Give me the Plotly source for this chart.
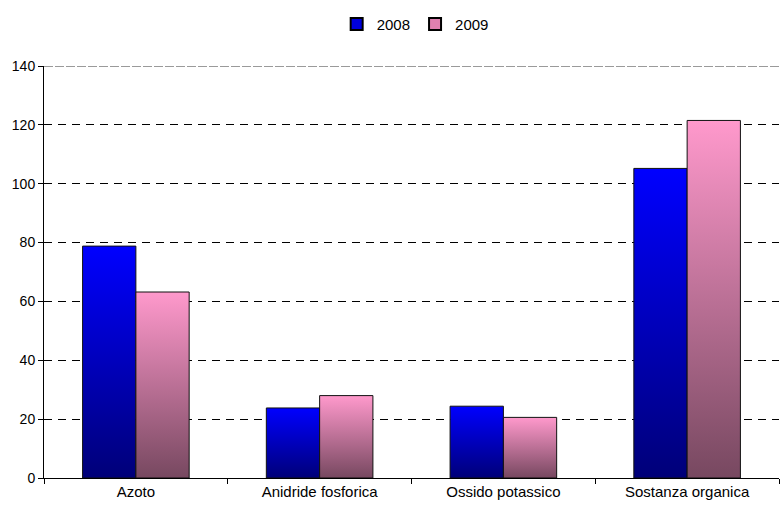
import plotly.graph_objects as go

categories = ["Azoto", "Anidride fosforica", "Ossido potassico", "Sostanza organica"]
series_names = ["2008", "2009"]
values_2008 = [78.8, 23.8, 24.4, 105.2]
values_2009 = [63.2, 28.0, 20.6, 121.5]
y_ticks = [0, 20, 40, 60, 80, 100, 120, 140]

series_values = [values_2008, values_2009]
top_colors = ["#0000FF", "#FF99CC"]
bottom_colors = ["#000078", "#774860"]
legend_colors = ["#0000DD", "#E080B0"]
bar_w = 0.29

fig = go.Figure()
for s, vals in enumerate(series_values):
    for i, v in enumerate(vals):
        x0 = i - bar_w + s * bar_w
        x1 = x0 + bar_w
        fig.add_trace(go.Scatter(
            x=[x0, x0, x1, x1, x0], y=[0, v, v, 0, 0],
            mode="lines", fill="toself",
            line=dict(color="#111111", width=1),
            fillgradient=dict(type="vertical", start=0, stop=v,
                              colorscale=[[0, bottom_colors[s]], [1, top_colors[s]]]),
            showlegend=False, hoverinfo="skip"))
    fig.add_trace(go.Scatter(
        x=[None], y=[None], mode="markers", name=series_names[s],
        marker=dict(symbol="square", size=9, color=legend_colors[s],
                    line=dict(color="#000", width=1))))

# top gridline (at the maximum tick), drawn grey as in the reference
fig.add_shape(type="line", xref="paper", x0=0, x1=1, yref="y",
              y0=y_ticks[-1], y1=y_ticks[-1],
              line=dict(color="#7a7a7a", width=1.5, dash="9px,2px"), layer="below")

fig.update_layout(
    width=781, height=511,
    margin=dict(l=44, r=2, t=66, b=33),
    paper_bgcolor="white", plot_bgcolor="white",
    font=dict(family="Liberation Sans, Arial", size=14, color="#000"),
    legend=dict(orientation="h", x=0.505, xanchor="center", y=0.985, yref="container",
                yanchor="top", font=dict(size=15), tracegroupgap=0,
                itemsizing="constant"),
    showlegend=True,
)
fig.update_xaxes(
    range=[-0.5, 3.5], tickvals=list(range(len(categories))), ticktext=categories,
    ticks="", showgrid=False, zeroline=False, showline=True, linecolor="#000",
    linewidth=1, tickfont=dict(size=15),
    minor=dict(tick0=0.5, dtick=1, ticks="outside", ticklen=5, tickcolor="#000", showgrid=False),
)
fig.update_yaxes(
    range=[0, 140], tickvals=y_ticks, ticks="outside", ticklen=5, tickcolor="#000",
    showline=True, linecolor="#000", linewidth=1, zeroline=False,
    showgrid=True, gridcolor="#000", gridwidth=1, griddash="8px,6px",
    tickfont=dict(size=14),
)
fig.write_html("out.html")
